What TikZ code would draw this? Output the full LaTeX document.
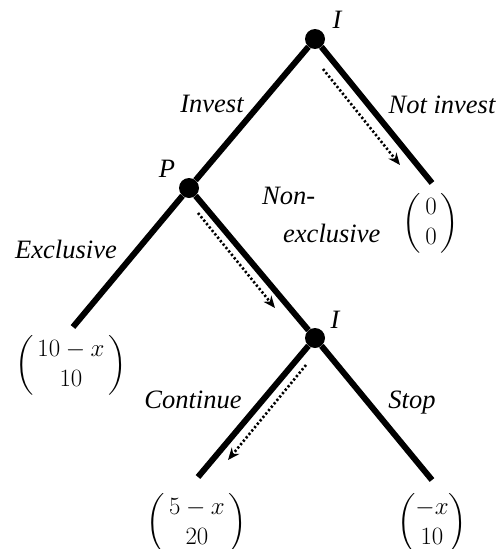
\documentclass[tikz,border=0pt]{standalone}
\usepackage{amsmath}
\usepackage{fontspec}
\setmainfont{Liberation Serif}
\usetikzlibrary{arrows.meta}
\begin{document}
\begin{tikzpicture}[x=1pt,y=-1pt,
  branch/.style={line width=6pt},
  decision/.style={circle, fill=black, minimum size=20pt, inner sep=0pt},
  choice/.style={line width=2.6pt, dash pattern=on 2.2pt off 2.2pt, -{Stealth[length=12pt,width=10pt]}},
  lbl/.style={font=\fontsize{26.5}{38}\selectfont\itshape, inner sep=0pt, anchor=base},
  payoff/.style={font=\fontsize{26.5}{30}\selectfont, inner sep=0pt}]
\useasboundingbox (0,0) rectangle (498,549);
% decision nodes
\node[decision] (I1) at (315,39) {};
\node[decision] (P) at (189,188) {};
\node[decision] (I2) at (315,338) {};
% branch ends
\coordinate (eNI) at (432,183);
\coordinate (eEx) at (73,327);
\coordinate (eCo) at (198,477);
\coordinate (eSt) at (432,480);
% branches
\draw[branch] (I1) -- (P);
\draw[branch] (I1) -- (eNI);
\draw[branch] (P) -- (eEx);
\draw[branch] (P) -- (I2);
\draw[branch] (I2) -- (eCo);
\draw[branch] (I2) -- (eSt);
% player labels
\node[lbl] (tI1) at (337,28) {I};
\node[lbl] (tP) at (167,177) {P};
\node[lbl] (tI2) at (335,328) {I};
% action labels
\node[lbl] (tInv) at (212,112) {Invest};
\node[lbl] (tNI) at (442,113) {Not invest};
\node[lbl] (tEx) at (66,258) {Exclusive};
\node[lbl, anchor=base west, align=left] (tNE) at (262,242) {Non-\\\hspace*{21pt}exclusive};
\node[lbl] (tCo) at (193,408) {Continue};
\node[lbl] (tSt) at (412,408) {Stop};
% equilibrium path
\coordinate (a1s) at (323,69);  \coordinate (a1e) at (400,165);
\coordinate (a2s) at (198,213); \coordinate (a2e) at (275,308);
\coordinate (a3s) at (306,365); \coordinate (a3e) at (228,460);
\draw[choice] (a1s) -- (a1e);
\draw[choice] (a2s) -- (a2e);
\draw[choice] (a3s) -- (a3e);
% payoffs
\node[payoff] (pNI) at (431,223) {$\begin{pmatrix}\,0\,\\ \,0\,\end{pmatrix}$};
\node[payoff] (pEx) at (71,365) {$\begin{pmatrix}\,10-x\,\\ 10\end{pmatrix}$};
\node[payoff] (pCo) at (197,523) {$\begin{pmatrix}\,5-x\,\\ 20\end{pmatrix}$};
\node[payoff] (pSt) at (432,523) {$\begin{pmatrix}-x\\ 10\end{pmatrix}$};
\end{tikzpicture}
\end{document}
